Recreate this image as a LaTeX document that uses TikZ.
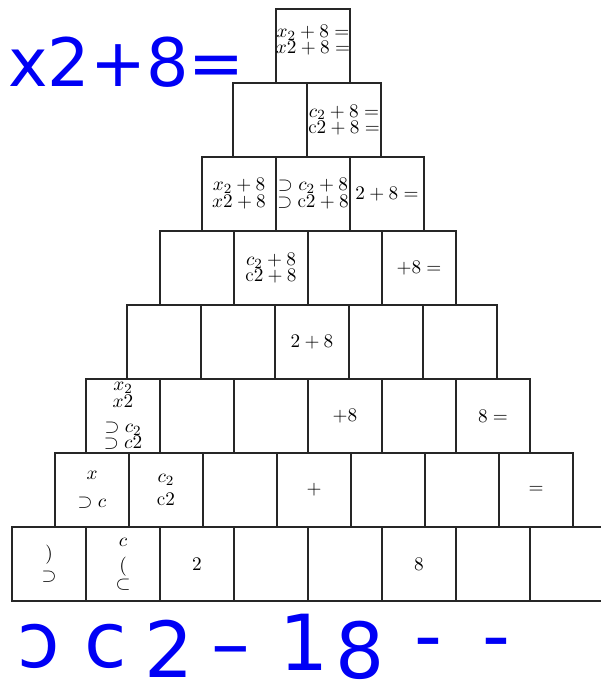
\documentclass[tikz,border=0pt]{standalone}
\usepackage{fontspec}
\usepackage{amsmath,amssymb}
\newfontfamily\handfont{DejaVu Sans}
\definecolor{ink}{RGB}{0,0,245}
\tikzset{
  cell/.style={rectangle,draw=black!85,line width=.8pt,minimum width=1.48cm,
    minimum height=1.48cm,inner sep=0pt,outer sep=0pt,align=center,
    font=\fontsize{11}{13}\selectfont},
  hand/.style={text=ink,inner sep=0pt,
    font=\handfont\fontsize{38}{38}\selectfont}}

\begin{document}
\begin{tikzpicture}[x=0.02cm,y=-0.02cm,
  celltext/.style={align=center,inner sep=0pt,
    font=\fontsize{11}{13}\selectfont},
  handbig/.style={hand,anchor=base,
    font=\handfont\fontsize{44}{44}\selectfont}]
  \useasboundingbox (0,0) rectangle (600,686);

  \node[hand,anchor=base west] (hwtop) at (8,87) {x2+8=};

  \node[cell] (c11) at (313,46) {};
  \node[celltext] (t11) at (313,40) {$x_2+8=$\\[-4pt]$x2+8=$};

  \node[cell] (c21) at (270,120) {};
  \node[cell] (c22) at (344,120) {$c_2+8=$\\[-3.5pt]$\mathrm{c}2+8=$};

  \node[cell] (c31) at (239,194) {$x_2+8$\\[-3.4pt]$x2+8$};
  \node[cell] (c32) at (313,194)
    {$\supset c_2+8$\\[-3.4pt]$\supset\mathrm{c}2+8$};
  \node[cell] (c33) at (387,194) {$2+8=$};

  \node[cell] (c41) at (197,268) {};
  \node[cell] (c42) at (271,268) {$c_2+8$\\[-4pt]$\mathrm{c}2+8$};
  \node[cell] (c43) at (345,268) {};
  \node[cell] (c44) at (419,268) {$+8=$};

  \node[cell] (c51) at (164,342) {};
  \node[cell] (c52) at (238,342) {};
  \node[cell] (c53) at (312,342) {$2+8$};
  \node[cell] (c54) at (386,342) {};
  \node[cell] (c55) at (460,342) {};

  \node[cell] (c61) at (123,416)
    {$x_2$\\[-3.4pt]$x2$\\[1.2pt]$\supset c_2$\\[-4pt]$\supset c2$};
  \node[cell] (c62) at (197,416) {};
  \node[cell] (c63) at (271,416) {};
  \node[cell] (c64) at (345,416) {$+8$};
  \node[cell] (c65) at (419,416) {};
  \node[cell] (c66) at (493,416) {$8=$};

  \node[cell] (c71) at (92,490) {$x$\\[2.9pt]$\supset c$};
  \node[cell] (c72) at (166,490) {$c_2$\\[0pt]$\mathrm{c}2$};
  \node[cell] (c73) at (240,490) {};
  \node[cell] (c74) at (314,490) {$+$};
  \node[cell] (c75) at (388,490) {};
  \node[cell] (c76) at (462,490) {};
  \node[cell] (c77) at (536,490) {$=$};

  \node[cell] (c81) at (49,564) {$)$\\[-0.5pt]$\supset$};
  \node[cell] (c82) at (123,564) {$c$\\[1.2pt]$($\\[-2.8pt]$\subset$};
  \node[cell] (c83) at (197,564) {$2$};
  \node[cell] (c84) at (271,564) {};
  \node[cell] (c85) at (345,564) {};
  \node[cell] (c86) at (419,564) {$8$};
  \node[cell] (c87) at (493,564) {};
  \node[cell] (c88) at (567,564) {};

  \node[handbig] (hb1) at (39,667) {ɔ};
  \node[handbig] (hb2) at (106,667) {c};
  \node[handbig] (hb3) at (169,677) {2};
  \node[handbig] (hb4) at (231,670) {–};
  \node[handbig] (hb5) at (304,670) {1};
  \node[handbig] (hb6) at (360,678) {8};
  \node[handbig] (hb7) at (428,662) {-};
  \node[handbig] (hb8) at (496,662) {-};
\end{tikzpicture}
\end{document}
